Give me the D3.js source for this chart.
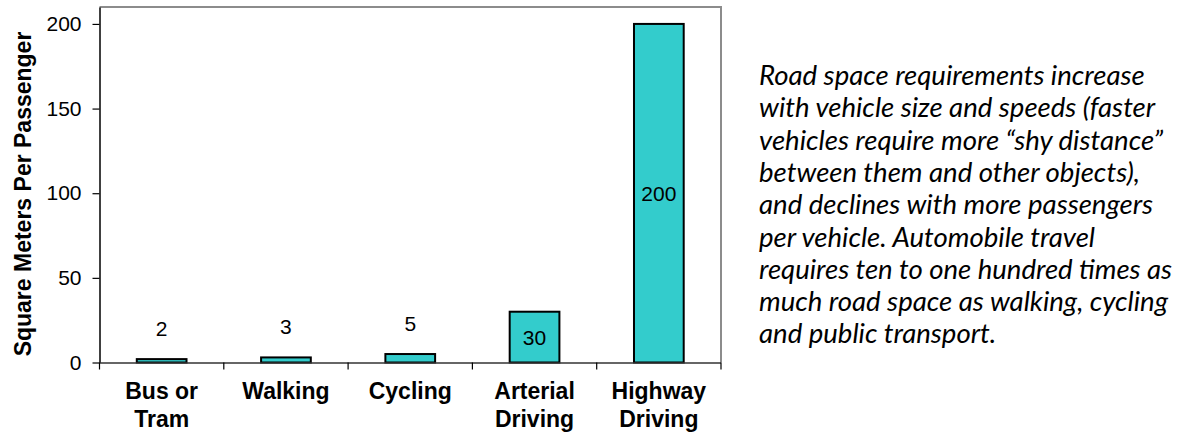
<!DOCTYPE html>
<html>
<head>
<meta charset="utf-8">
<script src="https://cdn.jsdelivr.net/npm/d3@7"></script>
<style>
  html, body { margin: 0; padding: 0; background: #fff; }
  svg { display: block; }
</style>
</head>
<body>
<svg id="chart" width="1183" height="432"></svg>
<script>
// ---- data ----
const categories = [["Bus or", "Tram"], ["Walking"], ["Cycling"], ["Arterial", "Driving"], ["Highway", "Driving"]];
const values = [2, 3, 5, 30, 200];
const yTicks = [0, 50, 100, 150, 200];
const yTitle = "Square Meters Per Passenger";
const noteLines = [
  "Road space requirements increase",
  "with vehicle size and speeds (faster",
  "vehicles require more \u201Cshy distance\u201D",
  "between them and other objects),",
  "and declines with more passengers",
  "per vehicle. Automobile travel",
  "requires ten to one hundred times as",
  "much road space as walking, cycling",
  "and public transport."
];

(function () {
// ---- layout ----
const svg = d3.select("#chart");
const pL = 99.5, pR = 721, pT = 7, pB = 362.5;
const catIds = categories.map((c, i) => i);

const x = d3.scaleBand().domain(catIds).range([pL, pR]).paddingInner(0.6).paddingOuter(0.3);
const y = d3.scaleLinear().domain([0, 210]).range([pB, pT]);

const axisFont = "Arial, 'Liberation Sans', sans-serif";

// plot frame (top & right gray)
svg.append("path")
  .attr("d", `M${pL},${pT}H${pR}V${pB}`)
  .attr("fill", "none").attr("stroke", "#8c8c8c").attr("stroke-width", 2);

// bars
svg.append("g").selectAll("rect").data(values).join("rect")
  .attr("x", (d, i) => x(i))
  .attr("y", d => y(d))
  .attr("width", x.bandwidth())
  .attr("height", d => y(0) - y(d))
  .attr("fill", "#33CCCC")
  .attr("stroke", "#000").attr("stroke-width", 2);

// y axis
const yAxis = svg.append("g").attr("transform", `translate(${pL},0)`)
  .call(d3.axisLeft(y).tickValues(yTicks).tickSize(7).tickPadding(11).tickSizeOuter(0));
yAxis.select(".domain").attr("stroke", "#000").attr("stroke-width", 1.5);
yAxis.selectAll(".tick line").attr("stroke", "#000").attr("stroke-width", 1.2);
yAxis.selectAll(".tick text").attr("font-family", axisFont).attr("font-size", 21).attr("fill", "#000");

// x axis (category boundary ticks)
const bounds = d3.range(categories.length + 1).map(i => pL + i * x.step());
svg.append("line").attr("x1", pL).attr("x2", pR).attr("y1", pB + 0.5).attr("y2", pB + 0.5)
  .attr("stroke", "#333").attr("stroke-width", 1.5);
svg.append("g").selectAll("line").data(bounds).join("line")
  .attr("x1", d => d).attr("x2", d => d)
  .attr("y1", pB).attr("y2", pB + 7)
  .attr("stroke", "#000").attr("stroke-width", 1.2);

// category labels
const catG = svg.append("g");
categories.forEach((lines, i) => {
  const cx = x(i) + x.bandwidth() / 2;
  const t = catG.append("text")
    .attr("x", cx)
    .attr("y", 399)
    .attr("text-anchor", "middle")
    .attr("font-family", axisFont).attr("font-weight", "bold").attr("font-size", 23)
    .attr("fill", "#000");
  lines.forEach((ln, j) => {
    t.append("tspan").attr("x", cx).attr("dy", j === 0 ? 0 : 28).text(ln);
  });
});

// data labels
svg.append("g").selectAll("text").data(values).join("text")
  .attr("x", (d, i) => x(i) + x.bandwidth() / 2)
  .attr("y", d => (y(0) - y(d)) > 30 ? (y(d) + y(0)) / 2 + 7.5 : y(d) - 23)
  .attr("text-anchor", "middle")
  .attr("font-family", axisFont).attr("font-size", 21).attr("fill", "#000")
  .text(d => d);

// y title
svg.append("text")
  .attr("transform", `translate(31,194) rotate(-90)`)
  .attr("text-anchor", "middle")
  .attr("font-family", axisFont).attr("font-weight", "bold").attr("font-size", 23)
  .attr("fill", "#000")
  .text(yTitle);

// note text
const noteG = svg.append("g");
const noteFont = "Lato, 'Open Sans', sans-serif";
let fs = 25;
const probe = noteG.append("text").attr("font-family", noteFont).attr("font-style", "italic")
  .attr("font-size", fs).text(noteLines[0]);
const w = probe.node().getComputedTextLength();
fs = fs * 386 / w;
probe.remove();
noteG.selectAll("text").data(noteLines).join("text")
  .attr("x", 759)
  .attr("y", (d, i) => 85 + i * 32.3)
  .attr("font-family", noteFont).attr("font-style", "italic").attr("font-size", fs)
  .attr("fill", "#000")
  .text(d => d);
})();
</script>
</body>
</html>
